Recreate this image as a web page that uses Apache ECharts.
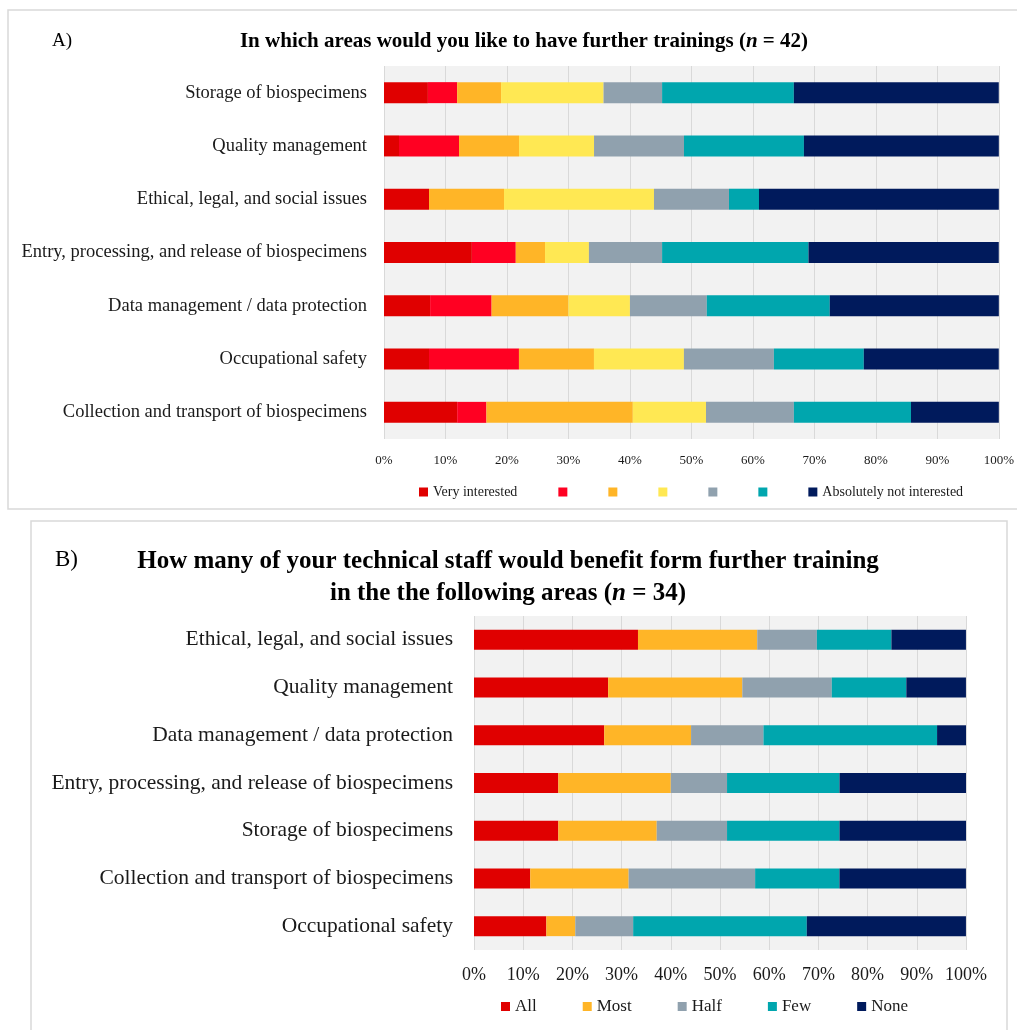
<!DOCTYPE html>
<html>
<head>
<meta charset="utf-8">
<script src="https://cdn.jsdelivr.net/npm/echarts@6/dist/echarts.min.js"></script>
<style>html,body{margin:0;padding:0;background:#fff}#c{width:1017px;height:1030px}</style>
</head>
<body>
<div id="c"></div>
<script>
// ---------- Panel A data ----------
const catsA = ['Storage of biospecimens','Quality management','Ethical, legal, and social issues','Entry, processing, and release of biospecimens','Data management / data protection','Occupational safety','Collection and transport of biospecimens'];
const namesA = ['Very interested','2','3','4','5','6','Absolutely not interested'];
const labeledA = ['Very interested','Absolutely not interested'];
const a1 = [7.14, 2.44, 7.32, 14.29, 7.5, 7.32, 11.90];
const a2 = [4.76, 9.76, 0, 7.14, 10, 14.63, 4.76];
const a3 = [7.14, 9.76, 12.20, 4.76, 12.5, 12.20, 23.81];
const a4 = [16.67, 12.20, 24.39, 7.14, 10, 14.63, 11.90];
const a5 = [9.52, 14.63, 12.20, 11.90, 12.5, 14.63, 14.29];
const a6 = [21.43, 19.51, 4.88, 23.81, 20, 14.63, 19.05];
const a7 = [33.33, 31.71, 39.02, 30.95, 27.5, 21.95, 14.29];
const colorsA = ['#e00000','#ff0022','#ffb527','#ffe853','#90a1ae','#00a6ae','#001a5c'];

// ---------- Panel B data ----------
const catsB = ['Ethical, legal, and social issues','Quality management','Data management / data protection','Entry, processing, and release of biospecimens','Storage of biospecimens','Collection and transport of biospecimens','Occupational safety'];
const namesB = ['All','Most','Half','Few','None'];
const bAll  = [33.33, 27.27, 26.47, 17.14, 17.14, 11.43, 14.71];
const bMost = [24.24, 27.27, 17.65, 22.86, 20.00, 20.00, 5.88];
const bHalf = [12.12, 18.18, 14.71, 11.43, 14.29, 25.71, 11.76];
const bFew  = [15.15, 15.15, 35.29, 22.86, 22.86, 17.14, 35.29];
const bNone = [15.15, 12.12, 5.88, 25.71, 25.71, 25.71, 32.35];
const colorsB = ['#e00000','#ffb527','#90a1ae','#00a6ae','#001a5c'];

const FONT = '"Liberation Serif", "Times New Roman", serif';
const seriesA = [a1,a2,a3,a4,a5,a6,a7];
const seriesB = [bAll,bMost,bHalf,bFew,bNone];

const chart = echarts.init(document.getElementById('c'), null, {renderer:'canvas'});

const series = [];
seriesA.forEach((d,i)=>series.push({
  name: namesA[i], type:'bar', stack:'A', xAxisIndex:0, yAxisIndex:0,
  barWidth:21, data:d, itemStyle:{color:colorsA[i]}, silent:true
}));
seriesB.forEach((d,i)=>series.push({
  name: namesB[i], type:'bar', stack:'B', xAxisIndex:1, yAxisIndex:1,
  barWidth:20, data:d, itemStyle:{color:colorsB[i]}, silent:true
}));

const xAxisCommon = (fs, margin) => ({
  type:'value', min:0, max:100, interval:10,
  axisLabel:{formatter:'{value}%', fontFamily:FONT, fontSize:fs, color:'#1a1a1a', margin:margin},
  axisLine:{show:false}, axisTick:{show:false},
  splitLine:{show:true, lineStyle:{color:'#d9d9d9', width:1}}
});
const yAxisCommon = (cats, fs, margin) => ({
  type:'category', data:cats, inverse:true,
  axisLabel:{fontFamily:FONT, fontSize:fs, color:'#1a1a1a', margin:margin},
  axisLine:{show:false}, axisTick:{show:false}
});

chart.setOption({
  animation:false,
  backgroundColor:'#ffffff',
  graphic:[
    {type:'rect', shape:{x:8, y:10, width:1012, height:499}, style:{fill:'none', stroke:'#d9d9d9', lineWidth:1.5}, silent:true},
    {type:'rect', shape:{x:31, y:521, width:976, height:520}, style:{fill:'none', stroke:'#d9d9d9', lineWidth:1.5}, silent:true}
  ],
  title:[
    {text:'A)', left:47, top:27, textStyle:{fontFamily:FONT, fontSize:19, fontWeight:'normal', color:'#000'}},
    {text:'In which areas would you like to have further trainings ({i|n} = 42)', left:519, top:26, textAlign:'center',
     textStyle:{fontFamily:FONT, fontSize:21, fontWeight:'bold', color:'#000',
       rich:{i:{fontFamily:FONT, fontSize:21, fontWeight:'bold', fontStyle:'italic', color:'#000'}}}},
    {text:'B)', left:50, top:543, textStyle:{fontFamily:FONT, fontSize:23, fontWeight:'normal', color:'#000'}},
    {text:'How many of your technical staff would benefit form further training\nin the the following areas ({i|n} = 34)', left:503, top:541, textAlign:'center',
     textStyle:{fontFamily:FONT, fontSize:25, fontWeight:'bold', color:'#000', lineHeight:32,
       rich:{i:{fontFamily:FONT, fontSize:25, fontWeight:'bold', fontStyle:'italic', color:'#000', lineHeight:32}}}}
  ],
  legend:[
    {data:namesA, left:414, top:480, itemWidth:9, itemHeight:9, itemGap:41, icon:'rect',
     formatter:(n)=>labeledA.includes(n)?n:'',
     textStyle:{fontFamily:FONT, fontSize:14, color:'#1a1a1a'}, selectedMode:false},
    {data:namesB, left:496, top:993, itemWidth:9, itemHeight:9, itemGap:46, icon:'rect',
     textStyle:{fontFamily:FONT, fontSize:17, color:'#1a1a1a'}, selectedMode:false}
  ],
  grid:[
    {left:384, top:66, width:616, height:373, show:true, backgroundColor:'#f2f2f2', borderWidth:0},
    {left:474, top:616, width:492, height:334, show:true, backgroundColor:'#f2f2f2', borderWidth:0}
  ],
  xAxis:[
    Object.assign(xAxisCommon(13, 15), {gridIndex:0}),
    Object.assign(xAxisCommon(18, 16), {gridIndex:1})
  ],
  yAxis:[
    Object.assign(yAxisCommon(catsA, 18.5, 17), {gridIndex:0}),
    Object.assign(yAxisCommon(catsB, 21.5, 21), {gridIndex:1})
  ],
  series:series
});
</script>
</body>
</html>
